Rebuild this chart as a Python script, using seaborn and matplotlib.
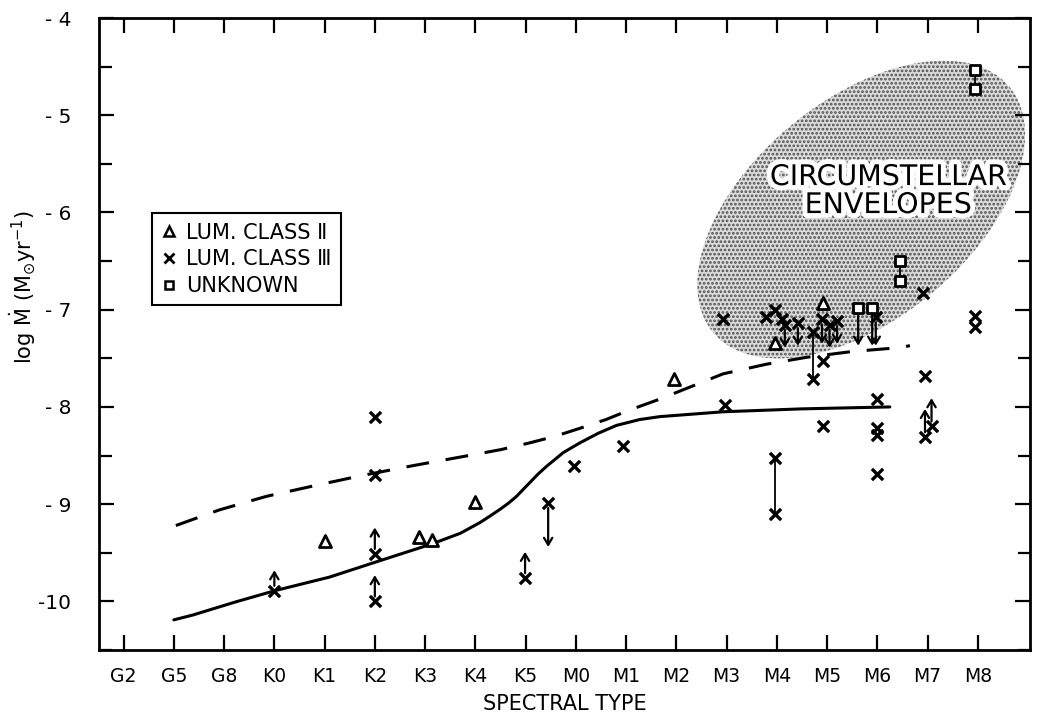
import numpy as np
import pandas as pd
import matplotlib
matplotlib.use("Agg")
import matplotlib.pyplot as plt
import seaborn as sns
from matplotlib.lines import Line2D
from matplotlib.patches import Polygon
import matplotlib.patheffects as pe

# ---------------- data ----------------
spectral_types = ["G2", "G5", "G8", "K0", "K1", "K2", "K3", "K4", "K5",
                  "M0", "M1", "M2", "M3", "M4", "M5", "M6", "M7", "M8"]
ytick_vals = [-4, -5, -6, -7, -8, -9, -10]
ytick_labels = ["- 4", "- 5", "- 6", "- 7", "- 8", "- 9", "-10"]

# luminosity class II (triangles)
class2_x = [4.0, 5.88, 6.13, 7.0, 10.95, 12.96, 13.92]
class2_y = [-9.38, -9.34, -9.37, -8.98, -7.71, -7.34, -6.93]

# luminosity class III (crosses)
class3_x = [3.0, 5.0, 5.0, 5.0, 5.0, 7.99, 8.45, 8.97, 9.94, 11.96, 11.93,
            12.96, 12.78, 13.10, 13.16, 13.42, 13.72, 13.72, 13.90, 14.05, 14.20,
            12.96, 12.96, 13.92, 13.92,
            14.97, 15.0, 15.0, 15.0, 15.0,
            15.91, 15.95, 15.95, 16.08, 16.94, 16.94]
class3_y = [-9.89, -8.10, -8.70, -9.51, -10.0, -9.76, -8.99, -8.61, -8.40, -7.98, -7.10,
            -7.00, -7.08, -7.10, -7.16, -7.14, -7.23, -7.71, -7.10, -7.16, -7.12,
            -8.53, -9.10, -7.53, -8.20,
            -7.08, -7.92, -8.22, -8.29, -8.69,
            -6.83, -7.68, -8.31, -8.20, -7.06, -7.18]

# unknown class (squares)
unknown_x = [16.94, 16.94, 15.45, 15.45, 14.62, 14.90]
unknown_y = [-4.53, -4.73, -6.50, -6.71, -6.98, -6.98]

# lower limits (upward arrows): x, y, arrow length
up_x = [3.0, 5.0, 5.0, 7.99, 15.95, 16.08]
up_y = [-9.89, -9.51, -10.0, -9.76, -8.31, -8.20]
up_len = [0.16, 0.22, 0.22, 0.22, 0.24, 0.24]

# upper limits (downward arrows)
down_x = [8.45, 13.16, 13.42, 13.90, 14.05, 14.20, 14.97, 14.62, 14.90]
down_y = [-8.99, -7.16, -7.14, -7.10, -7.16, -7.12, -7.08, -6.98, -6.98]
down_len = [0.40, 0.18, 0.18, 0.20, 0.18, 0.18, 0.24, 0.34, 0.34]

# ranges joined by vertical lines
range_x = [12.96, 13.72, 15.45, 16.94]
range_y1 = [-8.53, -7.23, -6.50, -4.53]
range_y2 = [-9.10, -7.71, -6.71, -4.73]

# solid curve
solid_x = [1.0, 1.38, 2.2, 3.01, 4.10, 4.99, 6.13, 6.7, 7.09, 7.3, 7.5, 7.66, 7.82,
           7.95, 8.1, 8.25, 8.42, 8.75, 9.08, 9.45, 9.81, 10.27, 10.67, 11.93, 13.5, 15.25]
solid_y = [-10.19, -10.14, -10.01, -9.89, -9.75, -9.60, -9.41, -9.30, -9.19, -9.12,
           -9.05, -8.99, -8.92, -8.85, -8.77, -8.69, -8.61, -8.47, -8.37, -8.27,
           -8.19, -8.13, -8.10, -8.05, -8.02, -8.00]

# dashed curve
dash_x = [1.04, 1.9, 2.84, 3.8, 4.70, 5.8, 6.76, 7.5, 8.08, 8.6, 9.08, 9.6, 10.08,
          10.67, 11.3, 11.93, 12.8, 13.59, 14.5, 15.45, 15.65]
dash_y = [-9.22, -9.06, -8.92, -8.81, -8.71, -8.60, -8.51, -8.44, -8.37, -8.30,
          -8.22, -8.13, -8.03, -7.92, -7.79, -7.66, -7.56, -7.49, -7.43, -7.39, -7.37]

# ---------------- style ----------------
sns.set_style("ticks")
plt.rcParams["font.family"] = ["DejaVu Sans"]
plt.rcParams["hatch.linewidth"] = 1.3
for k in ["text.color", "axes.labelcolor", "xtick.color", "ytick.color", "axes.edgecolor"]:
    plt.rcParams[k] = "black"

fig = plt.figure(figsize=(10.39, 7.15), dpi=100)
ax = fig.add_axes([99 / 1039, 1 - 650 / 715, 931 / 1039, 632 / 715])
ax.set_xlim(-0.49, 18.04)
ax.set_ylim(-10.45, -4.0)

# circumstellar envelope region (ellipse defined in display pixels)
fig.canvas.draw()
cx_pix, cy_pix = ax.transData.transform((14.68, -5.97))
a_pix, b_pix, ang = 193, 110, np.deg2rad(40)
t = np.linspace(0, 2 * np.pi, 200)
ex = cx_pix + a_pix * np.cos(t) * np.cos(ang) - b_pix * np.sin(t) * np.sin(ang)
ey = cy_pix + a_pix * np.cos(t) * np.sin(ang) + b_pix * np.sin(t) * np.cos(ang)
env_data = ax.transData.inverted().transform(np.column_stack([ex, ey]))
ax.add_patch(Polygon(env_data, closed=True, facecolor="#dadada", edgecolor="#505050",
                     linewidth=0, hatch="....", zorder=0))

ax.text(15.22, -5.78, "CIRCUMSTELLAR\nENVELOPES", ha="center", va="center",
        fontsize=20.5, linespacing=1.0, color="black", zorder=1,
        path_effects=[pe.withStroke(linewidth=7, foreground="white")])

# curves
curves = pd.concat([
    pd.DataFrame({"x": solid_x, "y": solid_y, "kind": "solid"}),
    pd.DataFrame({"x": dash_x, "y": dash_y, "kind": "dashed"}),
])
sns.lineplot(data=curves[curves.kind == "solid"], x="x", y="y", ax=ax, color="black",
             linewidth=2.2, sort=False, zorder=2)
n_before = len(ax.lines)
sns.lineplot(data=curves[curves.kind == "dashed"], x="x", y="y", ax=ax, color="black",
             linewidth=2.2, sort=False, zorder=2)
for ln in ax.lines[n_before:]:
    ln.set_linestyle((0, (7.5, 5.5)))
    ln.set_dash_capstyle("butt")

# range lines
for x, y1, y2 in zip(range_x, range_y1, range_y2):
    ax.plot([x, x], [y1, y2], color="black", linewidth=1.3, zorder=3)

# arrows
for x, y, L in zip(up_x, up_y, up_len):
    ax.annotate("", xy=(x, y + 0.05 + L), xytext=(x, y + 0.05),
                arrowprops=dict(arrowstyle="->,head_length=0.5,head_width=0.3",
                                color="black", lw=1.6, shrinkA=0, shrinkB=0), zorder=3)
for x, y, L in zip(down_x, down_y, down_len):
    ax.annotate("", xy=(x, y - 0.05 - L), xytext=(x, y - 0.05),
                arrowprops=dict(arrowstyle="->,head_length=0.5,head_width=0.3",
                                color="black", lw=1.6, shrinkA=0, shrinkB=0), zorder=3)

# markers
sns.scatterplot(x=class3_x, y=class3_y, ax=ax, marker="x", color="black", s=65,
                linewidth=2.4, zorder=5)
sns.scatterplot(x=class2_x, y=class2_y, ax=ax, marker="^", facecolor="white",
                edgecolor="black", s=75, linewidth=2.0, zorder=5)
sns.scatterplot(x=unknown_x, y=unknown_y, ax=ax, marker="s", facecolor="white",
                edgecolor="black", s=60, linewidth=2.0, zorder=5)

# axes, ticks
ax.set_xticks(range(len(spectral_types)))
ax.set_xticklabels(spectral_types, fontsize=13.5)
ax.set_yticks(ytick_vals)
ax.set_yticklabels(ytick_labels, fontsize=14.5)
ax.set_yticks(np.arange(-10.5, -4.0, 1.0), minor=True)
ax.tick_params(axis="both", which="major", direction="in", length=11, width=1.6,
               top=True, right=True)
ax.tick_params(axis="x", which="major", pad=12)
ax.tick_params(axis="y", which="major", pad=20)
ax.tick_params(axis="y", which="minor", direction="in", length=9, width=1.6, right=True)
ax.tick_params(axis="x", which="minor", bottom=False, top=False)
for sp in ax.spines.values():
    sp.set_linewidth(2.0)
    sp.set_visible(True)

ax.set_xlabel("SPECTRAL TYPE", fontsize=15, labelpad=6)
ax.set_ylabel(r"log $\dot{\mathrm{M}}$ (M$_{\odot}$yr$^{-1}$)", fontsize=15)
ax.yaxis.set_label_coords(-0.065, 0.575)

# legend
handles = [
    Line2D([], [], marker="^", linestyle="none", markerfacecolor="white",
           markeredgecolor="black", markersize=7, markeredgewidth=1.8),
    Line2D([], [], marker="x", linestyle="none", color="black", markersize=7,
           markeredgewidth=2.0),
    Line2D([], [], marker="s", linestyle="none", markerfacecolor="white",
           markeredgecolor="black", markersize=6, markeredgewidth=1.8),
]
labels = ["LUM. CLASS \u2161", "LUM. CLASS \u2162", "UNKNOWN"]
leg = ax.legend(handles, labels, loc="upper left", bbox_to_anchor=(0.057, 0.691),
                frameon=True, fancybox=False, edgecolor="black", framealpha=1,
                fontsize=15, handlelength=0.7, handletextpad=0.5, borderpad=0.45,
                labelspacing=0.32, borderaxespad=0)
leg.get_frame().set_linewidth(1.5)

fig.savefig("out.png", dpi=100)
